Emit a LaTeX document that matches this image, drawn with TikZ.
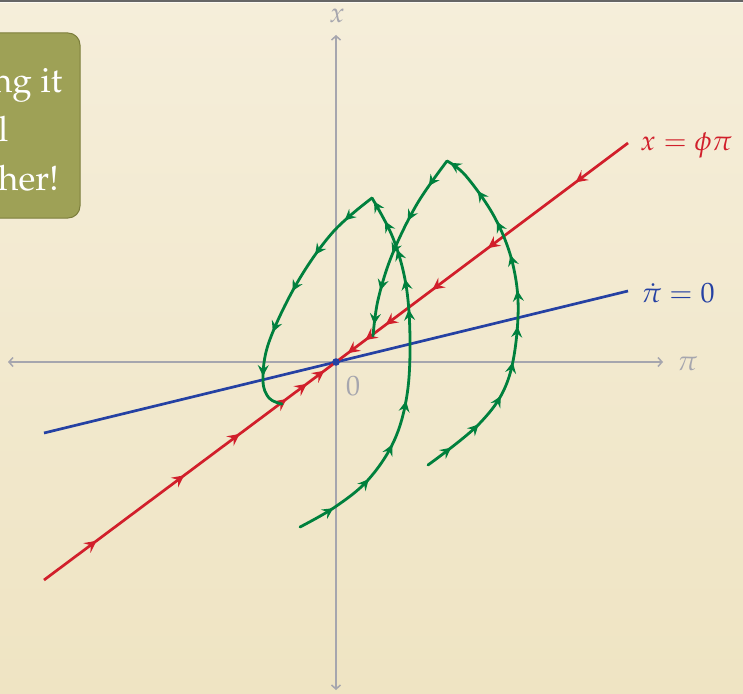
\documentclass[tikz,border=0pt]{standalone}
\usepackage[T1]{fontenc}
\usepackage{mathpazo}
\usetikzlibrary{arrows.meta,decorations.markings}
\definecolor{bgtop}{HTML}{F5EEDA}
\definecolor{bgbot}{HTML}{EFE4C3}
\definecolor{axgray}{HTML}{A6A6AE}
\definecolor{lred}{HTML}{D11F2B}
\definecolor{lblue}{HTML}{2541A3}
\definecolor{lgreen}{HTML}{00803D}
\definecolor{boxfill}{HTML}{9EA156}
\definecolor{boxedge}{HTML}{7C7E3C}
\tikzset{
  redtip/.tip={Stealth[length=12pt,width=12pt,inset=4.5pt]},
  greentip/.tip={Stealth[length=11pt,width=11pt,inset=4pt]},
  axisline/.style={draw=axgray, line width=1.5pt, {Straight Barb[length=4pt,width=9pt]}-{Straight Barb[length=4pt,width=9pt]}},
  axlabel/.style={text=axgray, font=\fontsize{28}{30}\selectfont, inner sep=0pt},
  redline/.style={draw=lred, line width=2.7pt},
  blueline/.style={draw=lblue, line width=2.7pt},
  gpath/.style={draw=lgreen, line width=2.8pt, line cap=round, line join=round},
  redm/.style={postaction={decorate}, decoration={markings,
    mark=at position 0.18 with {\arrow{redtip}},
    mark=at position 0.48 with {\arrow{redtip}},
    mark=at position 0.67 with {\arrow{redtip}},
    mark=at position 0.83 with {\arrow{redtip}},
    mark=at position 0.90 with {\arrow{redtip}},
    mark=at position 0.96 with {\arrow{redtip}}}},
  c1up/.style={postaction={decorate}, decoration={markings,
    mark=at position 0.10 with {\arrow{greentip}},
    mark=at position 0.22 with {\arrow{greentip}},
    mark=at position 0.33 with {\arrow{greentip}},
    mark=at position 0.45 with {\arrow{greentip}},
    mark=at position 0.69 with {\arrow{greentip}},
    mark=at position 0.77 with {\arrow{greentip}},
    mark=at position 0.85 with {\arrow{greentip}},
    mark=at position 0.93 with {\arrow{greentip}},
    mark=at position 0.99 with {\arrow{greentip}}}},
  c1dn/.style={postaction={decorate}, decoration={markings,
    mark=at position 0.14 with {\arrow{greentip}},
    mark=at position 0.32 with {\arrow{greentip}},
    mark=at position 0.49 with {\arrow{greentip}},
    mark=at position 0.67 with {\arrow{greentip}},
    mark=at position 0.85 with {\arrow{greentip}}}},
  c2up/.style={postaction={decorate}, decoration={markings,
    mark=at position 0.08 with {\arrow{greentip}},
    mark=at position 0.18 with {\arrow{greentip}},
    mark=at position 0.28 with {\arrow{greentip}},
    mark=at position 0.38 with {\arrow{greentip}},
    mark=at position 0.48 with {\arrow{greentip}},
    mark=at position 0.58 with {\arrow{greentip}},
    mark=at position 0.68 with {\arrow{greentip}},
    mark=at position 0.78 with {\arrow{greentip}},
    mark=at position 0.88 with {\arrow{greentip}},
    mark=at position 0.99 with {\arrow{greentip}}}},
  c2dn/.style={postaction={decorate}, decoration={markings,
    mark=at position 0.16 with {\arrow{greentip}},
    mark=at position 0.37 with {\arrow{greentip}},
    mark=at position 0.56 with {\arrow{greentip}},
    mark=at position 0.76 with {\arrow{greentip}},
    mark=at position 0.94 with {\arrow{greentip}}}},
  boxtext/.style={text=white, font=\fontsize{35}{49}\selectfont, inner sep=0pt, anchor=base},
}
\begin{document}
\begin{tikzpicture}[x=1pt,y=-1pt]
\useasboundingbox (0,0) rectangle (743,693);
\clip (0,0) rectangle (743,693);
% background
\shade[top color=bgtop, bottom color=bgbot] (0,0) rectangle (743,693);
\fill[gray!80!black] (0,0) rectangle (743,1.6);
\fill[white!70!bgtop] (0,1.6) rectangle (743,3);
% coordinates
\coordinate (O) at (336,362);
\coordinate (xl) at (8,362);
\coordinate (xr) at (663,362);
\coordinate (yt) at (336,35);
\coordinate (yb) at (336,690);
\coordinate (rA) at (44,580);
\coordinate (rB) at (628,143);
\coordinate (bA) at (44,433);
\coordinate (bB) at (628,291);
% axes
\draw[axisline] (xl) -- (xr);
\draw[axisline] (yb) -- (yt);
\node[axlabel, anchor=base] (lx) at (337,23) {$x$};
\node[axlabel, anchor=base west] (lpi) at (677,370) {$\pi$};
\node[axlabel, anchor=base west] (l0) at (346,395) {$0$};
% blue nullcline
\draw[blueline] (bA) -- (bB);
\node[text=lblue, font=\fontsize{28}{30}\selectfont, inner sep=0pt, anchor=base west] (lb) at (641,302) {$\dot\pi = 0$};
% red saddle path
\draw[redline, redm] (rA) -- (O);
\draw[redline, redm] (rB) -- (O);
\node[text=lred, font=\fontsize{28}{30}\selectfont, inner sep=0pt, anchor=base west] (lr) at (640,150) {$x = \phi\pi$};
% green trajectories
\draw[gpath, c1up] plot[smooth, tension=0.6] coordinates {(300,527) (335,507) (368,480) (394,441) (407,395) (410,340) (406,285) (393,238) (372,198)};
\draw[gpath, c1dn] plot[smooth, tension=0.6] coordinates {(372,198) (333,232) (297,283) (269,342) (263,380) (269,398) (282,404)};
\draw[gpath, c2up] plot[smooth, tension=0.6] coordinates {(428,465) (480,423) (508,380) (518,317) (513,265) (495,218) (466,176) (447,161)};
\draw[gpath, c2dn] plot[smooth, tension=0.6] coordinates {(447,161) (417,204) (392,255) (378,300) (373,336)};
% steady state
\fill[lblue] (O) circle (3.8);
% title box
\node[draw=boxedge, fill=boxfill, line width=1pt, rounded corners=12pt, minimum width=130pt, minimum height=185pt, inner sep=0pt] (box) at (15,125.5) {};
\node[boxtext] (t1) at (-10.5,92) {Putting it};
\node[boxtext] (t2) at (-10.5,141) {all};
\node[boxtext] (t3) at (-10.5,190) {together!};
\end{tikzpicture}
\end{document}
